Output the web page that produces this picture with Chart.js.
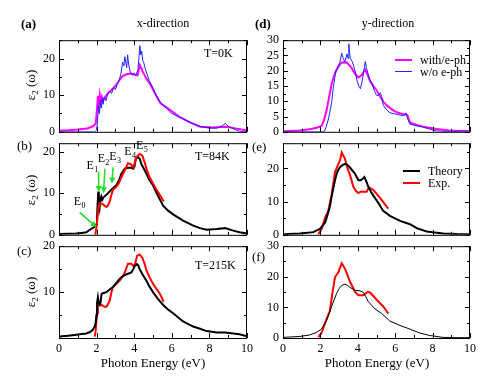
<!DOCTYPE html>
<html>
<head>
<meta charset="utf-8">
<script src="https://cdn.jsdelivr.net/npm/chart.js@4.4.1/dist/chart.umd.min.js"></script>
<style>
  body { margin: 0; width: 498px; height: 384px; position: relative; overflow: hidden; background: #fff;
         font-family: "Liberation Serif", "Times New Roman", serif; color: #000; }
  canvas { position: absolute; }
  .t { position: absolute; white-space: nowrap; line-height: 1; font-size: 12px; transform: translate(0, -50%); }
  .c { transform: translate(-50%, -50%); }
  .lab { font-size: 13px; }
  .b { font-weight: bold; }
  .yl { position: absolute; white-space: nowrap; line-height: 1; font-size: 13px;
        transform: translate(-50%, -50%) rotate(-90deg); }
  .yl sub { font-size: 9px; vertical-align: -3px; }
  .key { position: absolute; width: 17px; }
</style>
</head>
<body>

<script>
// ---- dados: x-direction, T=0K (a) ----
const aEphX = [0, 0.5, 1.0, 1.5, 1.8, 1.95, 2.02, 2.07, 2.12, 2.17, 2.22, 2.28, 2.35, 2.45, 2.6, 2.8, 3.0, 3.2, 3.4, 3.6, 3.85, 4.05, 4.18, 4.3, 4.45, 4.65, 4.85, 5.1, 5.4, 5.9, 6.4, 7.0, 7.5, 8.2, 8.6, 8.9, 9.3, 9.7, 10];
const aEphY = [0.3, 0.4, 0.6, 0.9, 1.5, 2.2, 6, 9.8, 7.5, 10, 8, 9.5, 8.5, 9.5, 10.5, 11.5, 12.5, 14, 15.3, 15.7, 15.9, 15.5, 15.4, 18.2, 16.5, 14.5, 13, 10.5, 7.8, 6, 4.1, 2.5, 1.4, 1.2, 1.3, 1.4, 1.0, 0.6, 0.4];
const aNoX = [0, 1.9, 2.0, 2.05, 2.1, 2.15, 2.2, 2.25, 2.3, 2.35, 2.4, 2.5, 2.6, 2.7, 2.8, 2.9, 3.0, 3.1, 3.2, 3.3, 3.38, 3.45, 3.5, 3.55, 3.6, 3.65, 3.7, 3.8, 3.9, 4.0, 4.1, 4.2, 4.25, 4.3, 4.35, 4.4, 4.45, 4.5, 4.6, 4.7, 4.8, 5.0, 5.2, 5.4, 5.7, 6.0, 6.5, 7.0, 7.5, 8.0, 8.4, 8.7, 8.85, 9.0, 9.3, 9.6, 10];
const aNoY = [0, 0, 0.5, 3, 7, 5, 8.5, 6.5, 9, 7.5, 9.5, 8.5, 10.5, 11, 10.5, 12, 11.5, 13, 14, 16, 19, 18, 20.5, 19, 17.5, 21, 18.5, 16, 15.5, 16, 15.5, 17, 20, 23.5, 21, 22, 19.5, 19, 17, 15.5, 14, 12, 9.5, 8, 6.5, 5, 3.8, 2.5, 1.5, 1.0, 1.0, 1.7, 2.3, 1.5, 0.8, 0.1, 0];

// ---- dados: y-direction, T=0K (d) ----
const dEphX = [0, 0.9, 1.5, 1.8, 2.07, 2.2, 2.34, 2.47, 2.6, 2.72, 2.83, 2.98, 3.14, 3.3, 3.4, 3.55, 3.67, 3.85, 4.03, 4.2, 4.39, 4.5, 4.65, 4.83, 5.01, 5.2, 5.36, 5.55, 5.72, 5.9, 6.08, 6.3, 6.52, 6.65, 6.79, 7.1, 7.5, 8.2, 8.9, 9.5, 10];
const dEphY = [0.2, 0.4, 0.9, 1.3, 2.0, 4, 7.3, 11.5, 15.7, 18.2, 19.9, 21.5, 22.7, 22.8, 22.7, 21.8, 20.9, 19, 17.8, 18.5, 20.4, 19, 16.7, 15, 13.6, 11.5, 9.9, 8.7, 7.8, 7, 6.4, 6.0, 5.7, 5.5, 3.1, 2.3, 1.7, 0.9, 0.4, 0.3, 0.2];
const dNoX = [0, 2.2, 2.3, 2.4, 2.5, 2.6, 2.67, 2.75, 2.83, 2.9, 2.96, 3.05, 3.14, 3.22, 3.3, 3.38, 3.43, 3.48, 3.52, 3.56, 3.6, 3.7, 3.78, 3.87, 3.96, 4.05, 4.14, 4.21, 4.28, 4.35, 4.4, 4.46, 4.53, 4.65, 4.76, 4.88, 5.0, 5.1, 5.2, 5.28, 5.36, 5.5, 5.72, 5.9, 6.08, 6.25, 6.44, 6.52, 6.58, 6.65, 6.79, 7.1, 7.5, 7.9, 8.2, 8.6, 9.0, 9.5, 10];
const dNoY = [0, 0, 1.5, 3.5, 6.2, 9.5, 13.6, 17, 19.9, 20.5, 21.5, 23, 25.7, 24, 23, 24.5, 25.5, 24, 28.8, 26, 24.1, 23, 21.5, 19.5, 16.7, 15, 14.1, 16, 18.3, 21, 23, 21, 19.4, 17, 15.7, 13.5, 12, 11.8, 12.8, 11.5, 8.8, 7.5, 6.2, 6.0, 5.7, 5.5, 5.3, 5.5, 6.2, 4.5, 2.5, 2.0, 1.5, 0.8, 0.3, 0.1, 0.1, 0.2, 0.3];

// ---- dados: x-direction, T=84K (b) ----
const bThX = [0, 0.5, 0.92, 1.2, 1.45, 1.7, 1.89, 1.98, 2.02, 2.05, 2.09, 2.12, 2.16, 2.2, 2.25, 2.3, 2.37, 2.52, 2.78, 3.05, 3.2, 3.32, 3.5, 3.67, 3.85, 3.95, 4.02, 4.08, 4.2, 4.3, 4.38, 4.5, 4.65, 4.8, 5.0, 5.25, 5.54, 5.8, 6.07, 6.6, 7.14, 7.5, 7.85, 8.4, 8.83, 9.27, 9.6, 10];
const bThY = [0.2, 0.25, 0.3, 0.45, 0.6, 1.4, 1.9, 2.5, 3.7, 7, 10.4, 8, 6.6, 8.5, 9.2, 8.4, 9, 9.6, 10.8, 11.9, 13.2, 14.7, 15.9, 16.1, 16.1, 15.9, 16.5, 18.2, 18.7, 18.2, 17.0, 16, 14.7, 13.2, 11.9, 9.5, 7.0, 5.8, 4.9, 3.4, 2.2, 1.6, 1.2, 1.4, 1.6, 1.0, 0.6, 0.3];
const bExpX = [1.93, 1.98, 2.04, 2.09, 2.16, 2.25, 2.34, 2.43, 2.52, 2.6, 2.7, 2.78, 2.87, 3.05, 3.2, 3.32, 3.5, 3.67, 3.81, 3.95, 4.03, 4.12, 4.29, 4.43, 4.55, 4.65, 4.8, 5.0, 5.18, 5.36, 5.57];
const bExpY = [0, 1.5, 3.7, 6.3, 7.6, 7.5, 7.3, 7.0, 6.7, 7.0, 8.0, 9.5, 10.8, 11.5, 12.5, 13.9, 15.5, 17.2, 17.0, 16.2, 17.2, 18.7, 19.4, 19.0, 17.5, 15.9, 14, 12.3, 10.9, 9.6, 8.0];

// ---- dados: y-direction, T=84K (e) ----
const eThX = [0, 0.9, 1.62, 1.98, 2.25, 2.38, 2.51, 2.6, 2.69, 2.78, 2.87, 2.96, 3.05, 3.18, 3.32, 3.45, 3.59, 3.72, 3.85, 3.94, 4.03, 4.12, 4.2, 4.28, 4.35, 4.45, 4.56, 4.7, 4.83, 5.1, 5.36, 5.72, 6.26, 6.79, 7.15, 7.68, 8.56, 9.3, 10];
const eThY = [0.2, 0.4, 0.8, 1.8, 3.7, 6, 8.6, 11.5, 14, 16.4, 18.4, 19.6, 20.4, 21.0, 21.4, 21.0, 20.2, 19.3, 18.4, 17.4, 16.5, 16.4, 16.6, 17.0, 17.4, 16.2, 14.5, 13.0, 11.8, 9.6, 7.2, 5.7, 4.2, 3.2, 2.0, 1.0, 0.4, 0.25, 0.2];
const eExpX = [1.89, 2.07, 2.25, 2.42, 2.6, 2.78, 2.96, 3.05, 3.14, 3.32, 3.45, 3.59, 3.76, 3.9, 4.03, 4.17, 4.3, 4.47, 4.6, 4.83, 5.19, 5.63];
const eExpY = [0.2, 1.8, 5.2, 7.2, 12.1, 18.9, 21.4, 22.5, 24.8, 22.8, 20, 17.9, 14.5, 13.2, 12.6, 13.0, 13.0, 13.0, 14.3, 13.5, 11.1, 7.9];

// ---- dados: x-direction, T=215K (c) ----
const cThX = [0, 0.5, 0.92, 1.2, 1.45, 1.65, 1.8, 1.9, 1.95, 1.99, 2.02, 2.07, 2.12, 2.17, 2.21, 2.26, 2.3, 2.52, 2.87, 3.05, 3.23, 3.4, 3.6, 3.85, 3.95, 4.03, 4.15, 4.22, 4.29, 4.45, 4.65, 4.8, 5.0, 5.25, 5.54, 5.8, 6.07, 6.6, 7.14, 7.5, 7.85, 8.4, 8.83, 9.27, 9.6, 10];
const cThY = [0.3, 0.5, 0.7, 0.85, 1.0, 1.3, 1.8, 2.5, 3.3, 5, 7.5, 8.9, 7.5, 7.2, 7.7, 9.5, 9.7, 10.0, 11.1, 12, 12.9, 13.5, 13.9, 14.3, 15, 15.7, 16.1, 15.8, 15.0, 13.8, 12.5, 11.3, 10.0, 8.6, 7.2, 6.2, 5.4, 3.6, 2.5, 2.0, 1.5, 1.2, 1.2, 1.0, 0.8, 0.4];
const cExpX = [1.9, 1.95, 1.98, 2.03, 2.07, 2.16, 2.25, 2.34, 2.43, 2.52, 2.6, 2.7, 2.78, 2.87, 3.05, 3.23, 3.4, 3.5, 3.67, 3.85, 3.92, 3.99, 4.07, 4.15, 4.29, 4.43, 4.55, 4.65, 4.82, 5.0, 5.18, 5.36, 5.57];
const cExpY = [0.3, 1.5, 3.3, 5.5, 7.5, 7.5, 7.2, 7.0, 6.8, 6.8, 7.3, 8.2, 9.8, 11.1, 11.8, 12.5, 13.5, 14.3, 16.2, 16.2, 15.8, 15.5, 16.5, 17.9, 18.2, 17.5, 16.2, 14.7, 13.2, 11.8, 10.7, 9.7, 7.9];

// ---- dados: y-direction, T=215K (f) ----
const fThX = [0, 0.9, 1.43, 1.78, 2.05, 2.32, 2.6, 2.87, 3.0, 3.14, 3.32, 3.45, 3.59, 3.85, 4.12, 4.3, 4.43, 4.56, 4.92, 5.28, 5.72, 6.26, 6.79, 7.33, 7.86, 8.56, 9.2, 10];
const fThY = [0.2, 0.5, 1.0, 1.8, 2.9, 5.5, 10.3, 14.6, 16.1, 17.2, 17.6, 17.2, 16.5, 15.6, 15.4, 14.9, 13.5, 11.9, 9.5, 8.0, 5.5, 4.1, 2.9, 1.6, 0.8, 0.2, 0.1, 0.1];
const fExpX = [1.89, 2.07, 2.32, 2.5, 2.65, 2.78, 2.96, 3.14, 3.32, 3.59, 3.85, 4.03, 4.3, 4.53, 4.67, 5.01, 5.36, 5.63];
const fExpY = [0.3, 1.8, 6.1, 8.7, 15, 19.9, 21.5, 24.4, 22.6, 18.3, 15.1, 14.0, 14.0, 15.1, 14.8, 12.5, 10.3, 8.0];

// Marcas E0..E5 do painel (b): posição do texto e das setas em coordenadas de dados
const eMarks = [
  { n: '0', tx: 0.98, ty: 8.0,  arrow: [1.1, 5.4, 2.0, 1.8] },
  { n: '1', tx: 1.66, ty: 16.6, arrow: [2.11, 15.2, 2.11, 10.3] },
  { n: '2', tx: 2.25, ty: 18.2, arrow: [2.44, 15.9, 2.37, 10.0] },
  { n: '3', tx: 2.87, ty: 18.7, arrow: [2.88, 16.2, 2.81, 12.3] },
  { n: '4', tx: 3.67, ty: 19.9 },
  { n: '5', tx: 4.29, ty: 21.3 }
];

const PADL = 30, PADT = 10, PADR = 10, PADB = 10, XH = 20;
const serif = '"Liberation Serif", "Times New Roman", serif';

const pts = (xs, ys) => xs.map((x, i) => ({ x, y: ys[i] }));
const line = (xs, ys, color, width) => ({
  data: pts(xs, ys), borderColor: color, borderWidth: width,
  pointRadius: 0, fill: false, tension: 0
});

// moldura com marcas para dentro nos quatro lados
const framePlugin = {
  id: 'frame',
  afterDatasetsDraw(chart) {
    const { ctx, chartArea: a, scales: { x, y } } = chart;
    ctx.save();
    ctx.strokeStyle = '#000';
    ctx.lineWidth = 1;
    ctx.beginPath();
    x.ticks.forEach(t => {
      const px = Math.round(x.getPixelForValue(t.value)) + 0.5;
      const len = t.label !== '' ? 5 : 3;
      ctx.moveTo(px, a.bottom); ctx.lineTo(px, a.bottom - len);
      ctx.moveTo(px, a.top); ctx.lineTo(px, a.top + len);
    });
    y.ticks.forEach(t => {
      const py = Math.round(y.getPixelForValue(t.value)) + 0.5;
      const len = t.label !== '' ? 5 : 3;
      ctx.moveTo(a.left, py); ctx.lineTo(a.left + len, py);
      ctx.moveTo(a.right, py); ctx.lineTo(a.right - len, py);
    });
    ctx.stroke();
    ctx.strokeRect(a.left + 0.5, a.top + 0.5, a.right - a.left - 1, a.bottom - a.top);
    ctx.restore();
  }
};

// rótulos E e setas verdes do painel (b)
const marksPlugin = {
  id: 'marks',
  afterDatasetsDraw(chart, args, opts) {
    if (!opts.items) return;
    const { ctx, scales: { x, y } } = chart;
    ctx.save();
    opts.items.forEach(m => {
      if (m.arrow) {
        const [x1, y1, x2, y2] = m.arrow;
        const p1 = [x.getPixelForValue(x1), y.getPixelForValue(y1)];
        const p2 = [x.getPixelForValue(x2), y.getPixelForValue(y2)];
        const ang = Math.atan2(p2[1] - p1[1], p2[0] - p1[0]);
        ctx.strokeStyle = '#22dd22';
        ctx.fillStyle = '#22dd22';
        ctx.lineWidth = 1.5;
        ctx.beginPath();
        ctx.moveTo(p1[0], p1[1]);
        ctx.lineTo(p2[0] - 4 * Math.cos(ang), p2[1] - 4 * Math.sin(ang));
        ctx.stroke();
        ctx.beginPath();
        ctx.moveTo(p2[0], p2[1]);
        ctx.lineTo(p2[0] - 6 * Math.cos(ang) + 3 * Math.sin(ang), p2[1] - 6 * Math.sin(ang) - 3 * Math.cos(ang));
        ctx.lineTo(p2[0] - 6 * Math.cos(ang) - 3 * Math.sin(ang), p2[1] - 6 * Math.sin(ang) + 3 * Math.cos(ang));
        ctx.closePath();
        ctx.fill();
      }
      const px = x.getPixelForValue(m.tx), py = y.getPixelForValue(m.ty);
      ctx.fillStyle = '#000';
      ctx.textAlign = 'center';
      ctx.textBaseline = 'middle';
      ctx.font = '12px ' + serif;
      ctx.fillText('E', px, py);
      ctx.font = '8px ' + serif;
      ctx.textAlign = 'left';
      ctx.fillText(m.n, px + 4, py + 4);
    });
    ctx.restore();
  }
};

const makePanel = (p, datasets, extra) => {
  const cv = document.createElement('canvas');
  const w = p.R - p.L + PADL + PADR;
  const h = p.B - p.T + PADT + PADB + (p.showX ? XH : 0);
  cv.width = w; cv.height = h;
  cv.style.left = (p.L - PADL) + 'px';
  cv.style.top = (p.T - PADT) + 'px';
  document.body.appendChild(cv);
  const font = { family: serif, size: 12 };
  new Chart(cv, {
    type: 'line',
    data: { datasets },
    options: {
      responsive: false,
      animation: false,
      layout: { padding: { left: 0, top: PADT, right: PADR, bottom: PADB } },
      plugins: { legend: { display: false }, tooltip: { enabled: false }, marks: extra || {} },
      scales: {
        x: {
          type: 'linear', min: 0, max: 10,
          grid: { display: false, drawTicks: false }, border: { display: false },
          ticks: {
            display: p.showX, stepSize: 1, autoSkip: false, maxRotation: 0, includeBounds: false,
            padding: 4, color: '#000', font,
            callback: v => (v % 2 === 0 ? v : '')
          },
          afterFit: s => { s.height = p.showX ? XH : 0; }
        },
        y: {
          type: 'linear', min: 0, max: p.ymax,
          grid: { display: false, drawTicks: false }, border: { display: false },
          ticks: {
            stepSize: p.minor, autoSkip: false, includeBounds: false, padding: 4, color: '#000', font,
            callback: v => (Math.abs(v % p.major) < 1e-6 && !(p.hideZero && v === 0) ? v : '')
          },
          afterFit: s => { s.width = PADL; }
        }
      }
    },
    plugins: [framePlugin, marksPlugin]
  });
};

// painéis (posição da área de desenho em px)
makePanel({ L: 59, T: 39, R: 247, B: 133, ymax: 25, minor: 5, major: 10 },
  [line(aNoX, aNoY, '#2222ff', 1), line(aEphX, aEphY, '#ff00ff', 2)]);
makePanel({ L: 283, T: 39, R: 470, B: 133, ymax: 30, minor: 2.5, major: 5 },
  [line(dNoX, dNoY, '#2222ff', 1), line(dEphX, dEphY, '#ff00ff', 2)]);
makePanel({ L: 59, T: 142, R: 247, B: 236, ymax: 22, minor: 5, major: 10 },
  [line(bExpX, bExpY, '#ff0000', 2), line(bThX, bThY, '#000000', 2)], { items: eMarks });
makePanel({ L: 283, T: 142, R: 470, B: 236, ymax: 27.6, minor: 5, major: 10 },
  [line(eThX, eThY, '#000000', 2), line(eExpX, eExpY, '#ff0000', 2)]);
makePanel({ L: 59, T: 245, R: 247, B: 338, ymax: 20, minor: 5, major: 10, hideZero: true, showX: true },
  [line(cThX, cThY, '#000000', 2), line(cExpX, cExpY, '#ff0000', 2)]);
makePanel({ L: 283, T: 245, R: 470, B: 338, ymax: 30, minor: 5, major: 10, showX: true },
  [line(fThX, fThY, '#000000', 1), line(fExpX, fExpY, '#ff0000', 2)]);
</script>

<div class="t lab b" style="left:21px;top:23px">(a)</div>
<div class="t c" style="left:163px;top:23px">x-direction</div>
<div class="t lab b" style="left:255px;top:23px">(d)</div>
<div class="t c" style="left:388px;top:23px">y-direction</div>
<div class="t lab" style="left:17px;top:145px">(b)</div>
<div class="t lab" style="left:252px;top:146px">(e)</div>
<div class="t lab" style="left:17px;top:250px">(c)</div>
<div class="t lab" style="left:252px;top:256px">(f)</div>

<div class="yl" style="left:32px;top:85px">ε<sub>2</sub> (ω)</div>
<div class="yl" style="left:32px;top:190px">ε<sub>2</sub> (ω)</div>
<div class="yl" style="left:32px;top:292px">ε<sub>2</sub> (ω)</div>

<div class="t" style="left:204px;top:53px">T=0K</div>
<div class="t" style="left:195px;top:156px">T=84K</div>
<div class="t" style="left:195px;top:265px">T=215K</div>

<div class="key" style="left:395px;top:59px;height:2px;background:#ff00ff"></div>
<div class="t" style="left:420px;top:60px">with/e-ph</div>
<div class="key" style="left:395px;top:71px;height:1px;background:#2222ff"></div>
<div class="t" style="left:420px;top:72px">w/o e-ph</div>

<div class="key" style="left:403px;top:170px;height:2px;background:#000"></div>
<div class="t" style="left:428px;top:171px">Theory</div>
<div class="key" style="left:403px;top:182px;height:2px;background:#ff0000"></div>
<div class="t" style="left:428px;top:183px">Exp.</div>

<div class="t c lab" style="left:153px;top:362px">Photon Energy (eV)</div>
<div class="t c lab" style="left:377px;top:362px">Photon Energy (eV)</div>
</body>
</html>
